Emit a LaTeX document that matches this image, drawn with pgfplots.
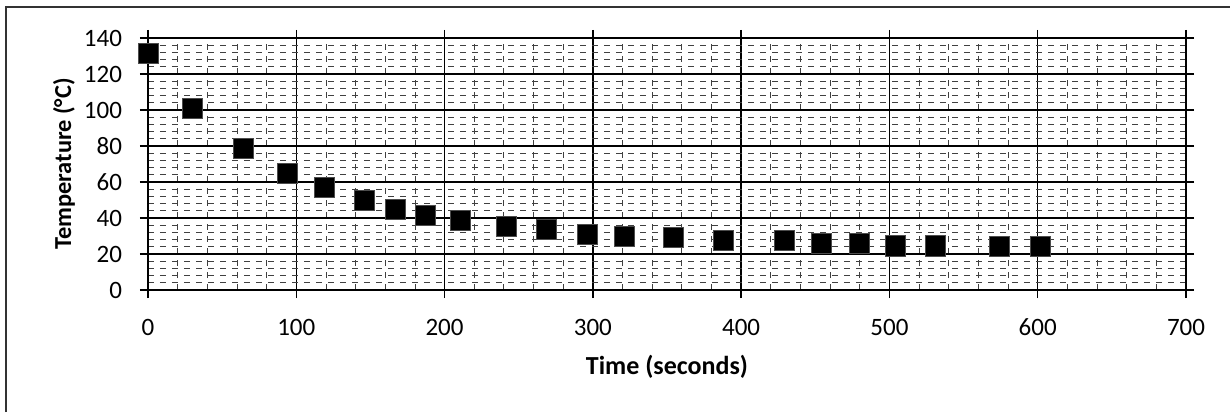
\documentclass[border=0pt]{standalone}
\usepackage{pgfplots}
\pgfplotsset{compat=1.18}
\usepackage{fontspec}
\setmainfont{Carlito}
\begin{document}
\begin{tikzpicture}
\begin{axis}[
  scale only axis, width=519pt, height=126pt,
  xmin=0, xmax=700, ymin=0, ymax=140,
  xtick={0,100,...,700}, ytick={0,20,...,140},
  minor x tick num=4, minor y tick num=4,
  grid=both,
  major grid style={black, line width=0.7pt},
  minor grid style={black!75, dashed, line width=0.4pt},
  axis line style={black, line width=0.8pt},
  tick align=outside, major tick length=4pt, minor tick length=0pt,
  tick style={black, line width=0.7pt},
  /pgf/number format/assume math mode=true,
  ticklabel style={font=\fontsize{12.5}{14}\selectfont},
  xticklabel style={yshift=-7pt},
  yticklabel style={xshift=-5.5pt},
  xlabel={Time (seconds)}, ylabel={Temperature (°C)},
  xlabel style={font=\fontsize{13}{15}\selectfont\bfseries, at={([yshift=-38.5pt]axis description cs:0.5,0)}, anchor=center},
  ylabel style={font=\fontsize{12.2}{14}\selectfont\bfseries, at={([xshift=-42pt]axis description cs:0,0.5)}, anchor=center},
]
\addplot[only marks, mark=square*, mark size=5pt, mark options={fill=black, draw=black!70}] coordinates {
(0,131.3) (30,101.1) (64,78.8) (94,64.9) (119,57.1) (146,49.7) (167,45.0)
(187,41.7) (211,38.5) (242,35.6) (269,33.8) (296,31.0) (321,30.0) (354,29.1)
(388,27.8) (429,27.3) (454,26.0) (480,26.0) (504,24.5) (531,24.5) (574,24.1) (602,24.1)
};
\end{axis}
\pgfresetboundingbox
\path[use as bounding box] ([shift={(-74pt,-61pt)}]current axis.south west) rectangle ([shift={(22pt,19pt)}]current axis.north east);
\draw[black!80, line width=0.6pt] ([shift={(-71pt,-61pt)}]current axis.south west) -- ([shift={(-71pt,15.5pt)}]current axis.north west) -- ([shift={(22pt,15.5pt)}]current axis.north east);
\end{tikzpicture}
\end{document}
